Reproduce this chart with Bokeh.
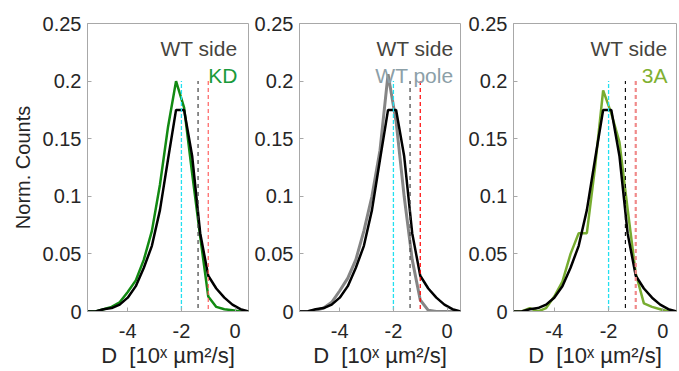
from bokeh.plotting import figure
from bokeh.layouts import row
from bokeh.models import Label, FixedTicker, Range1d, NumeralTickFormatter
from bokeh.embed import file_html
from bokeh.resources import INLINE

# log10 of diffusion coefficient (bin centres)
log_d = [-5.5, -5.2, -4.9, -4.6, -4.3, -4.0, -3.7, -3.4, -3.1, -2.8, -2.5,
         -2.2, -1.9, -1.6, -1.3, -1.0, -0.7, -0.4, -0.1, 0.2, 0.5]

wt_side = [0.0, 0.0, 0.002, 0.003, 0.006, 0.012, 0.022, 0.038, 0.057, 0.088, 0.132,
           0.175, 0.175, 0.135, 0.068, 0.031, 0.020, 0.012, 0.006, 0.002, 0.0]
kd = [0.0, 0.0, 0.002, 0.004, 0.008, 0.017, 0.027, 0.045, 0.070, 0.110, 0.160,
      0.200, 0.177, 0.120, 0.065, 0.013, 0.004, 0.002, 0.001, 0.0, 0.0]
wt_pole = [0.0, 0.0, 0.001, 0.003, 0.008, 0.018, 0.029, 0.045, 0.070, 0.100, 0.140,
           0.206, 0.165, 0.100, 0.045, 0.010, 0.001, 0.0, 0.0, 0.0, 0.0]
mut_3a = [0.0, 0.0, 0.003, 0.0, 0.003, 0.013, 0.026, 0.050, 0.068, 0.068, 0.125,
          0.192, 0.172, 0.147, 0.089, 0.033, 0.007, 0.004, 0.002, 0.0, 0.0]

# reference markers (log10 D)
marker_cyan = -2.0
marker_black = -1.38
marker_red = -1.0

y_ticks = [0, 0.05, 0.1, 0.15, 0.2, 0.25]
x_ticks = [-4, -2, 0]
x_tick_labels = {-4: "-4", -2: "-2", 0: "0"}

FONT = "Liberation Sans"
TXT = "#262626"
AX = "#a8a8a8"

panels = [
    dict(series=kd, color="#128a12", width=2.5, name="KD", name_color="#1a9a3a",
         red="#ff6060", red_w=1.2, blk="#404040", left=87, fw=161, right=2, off=-11, ylabel=True),
    dict(series=wt_pole, color="#858585", width=3, name="WT pole", name_color="#8ca0a8",
         red="#ff0000", red_w=1.2, blk="#404040", left=49, fw=161, right=2, off=-7, ylabel=False),
    dict(series=mut_3a, color="#77ac30", width=2.5, name="3A", name_color="#80b030",
         red="#f08a8a", red_w=2.2, blk="#101010", left=51, fw=163, right=3, off=-9, ylabel=False),
]

figs = []
for cfg in panels:
    p = figure(frame_width=cfg["fw"], frame_height=288,
               min_border_left=cfg["left"], min_border_right=cfg["right"],
               min_border_top=23, min_border_bottom=60,
               x_range=Range1d(-5.5, 0.5), y_range=Range1d(0, 0.25),
               output_backend="svg", toolbar_location=None)
    p.grid.visible = False
    p.outline_line_color = AX
    p.background_fill_color = "white"
    p.border_fill_color = "white"

    for ax in (p.xaxis[0], p.yaxis[0]):
        ax.major_tick_in = 4
        ax.major_tick_out = 0
        ax.minor_tick_line_color = None
        ax.axis_line_color = AX
        ax.major_tick_line_color = AX
        ax.major_label_text_font = FONT
        ax.major_label_text_font_size = "20px"
        ax.major_label_text_color = TXT
    p.xaxis[0].ticker = FixedTicker(ticks=x_ticks)
    p.xaxis[0].major_label_overrides = x_tick_labels
    p.xaxis[0].major_label_standoff = 12
    p.xaxis[0].axis_label = "D\u00a0\u00a0[10ˣ µm²/s]"
    p.xaxis[0].axis_label_text_font = FONT
    p.xaxis[0].axis_label_text_font_size = "22px"
    p.xaxis[0].axis_label_text_font_style = "normal"
    p.xaxis[0].axis_label_text_color = TXT
    p.xaxis[0].axis_label_standoff = 2
    p.yaxis[0].ticker = FixedTicker(ticks=y_ticks)
    p.yaxis[0].formatter = NumeralTickFormatter(format="0.[00]")
    p.yaxis[0].major_label_standoff = 6
    if cfg["ylabel"]:
        p.yaxis[0].axis_label = "Norm. Counts"
        p.yaxis[0].axis_label_text_font = FONT
        p.yaxis[0].axis_label_text_font_size = "20px"
        p.yaxis[0].axis_label_text_font_style = "normal"
        p.yaxis[0].axis_label_text_color = TXT
        p.yaxis[0].axis_label_standoff = 6

    p.line(log_d, cfg["series"], line_color=cfg["color"], line_width=cfg["width"])
    p.line(log_d, wt_side, line_color="black", line_width=2.5)

    p.segment(x0=[marker_cyan], y0=[-0.004], x1=[marker_cyan], y1=[0.2],
              line_color="#22e0f0", line_width=1.3, line_dash="4 2")
    p.segment(x0=[marker_black], y0=[-0.004], x1=[marker_black], y1=[0.2],
              line_color=cfg["blk"], line_width=1.2, line_dash="4 4")
    p.segment(x0=[marker_red], y0=[-0.004], x1=[marker_red], y1=[0.2],
              line_color=cfg["red"], line_width=cfg["red_w"], line_dash="4 3")

    p.add_layout(Label(x=0.5, y=0.228, x_offset=cfg["off"], text="WT side",
                       text_align="right", text_baseline="alphabetic",
                       text_font=FONT, text_font_size="21px", text_color="#46443e"))
    p.add_layout(Label(x=0.5, y=0.205, x_offset=cfg["off"], text=cfg["name"],
                       text_align="right", text_baseline="alphabetic",
                       text_font=FONT, text_font_size="21px", text_color=cfg["name_color"]))
    figs.append(p)

layout = row(*figs)
open("out.html", "w").write(file_html(layout, INLINE))
